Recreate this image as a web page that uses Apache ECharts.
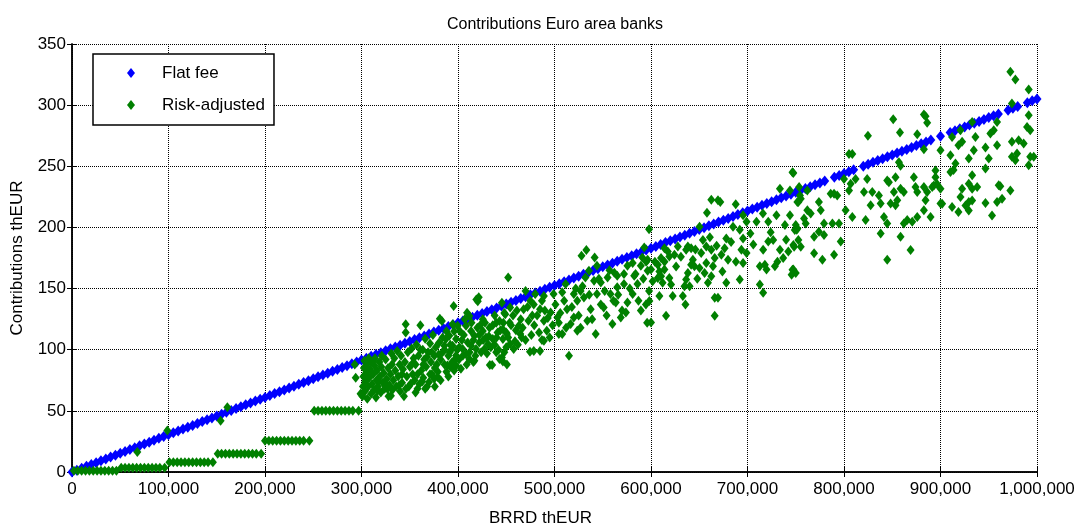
<!DOCTYPE html>
<html><head><meta charset="utf-8">
<script src="https://cdn.jsdelivr.net/npm/echarts@6/dist/echarts.min.js"></script>
<style>html,body{margin:0;padding:0;background:#fff}#c{width:1082px;height:532px}</style>
</head><body><div id="c"></div>
<script>
const titleText = 'Contributions Euro area banks';
const xName = 'BRRD thEUR';
const yName = 'Contributions thEUR';
const seriesNames = ['Flat fee', 'Risk-adjusted'];

// Flat fee: [BRRD thEUR, contribution thEUR]
const flatFee = [
[0,0],[5000,1.5],[10000,3.1],[15000,4.6],[20000,6.1],[25000,7.6],[30000,9.2],[35000,10.7],[40000,12.2],[45000,13.7],
[50000,15.3],[55000,16.8],[60000,18.3],[65000,19.8],[70000,21.4],[75000,22.9],[80000,24.4],[85000,25.9],[90000,27.5],[95000,29.0],
[100000,30.5],[105000,32.0],[110000,33.6],[115000,35.1],[120000,36.6],[125000,38.1],[130000,39.7],[135000,41.2],[140000,42.7],[145000,44.2],
[150000,45.8],[155000,47.3],[160000,48.8],[165000,50.3],[170000,51.9],[175000,53.4],[180000,54.9],[185000,56.4],[190000,58.0],[195000,59.5],
[200000,61.0],[205000,62.5],[210000,64.1],[215000,65.6],[220000,67.1],[225000,68.6],[230000,70.2],[235000,71.7],[240000,73.2],[245000,74.7],
[250000,76.3],[255000,77.8],[260000,79.3],[265000,80.8],[270000,82.4],[275000,83.9],[280000,85.4],[285000,86.9],[290000,88.5],[295000,90.0],
[300000,91.5],[305000,93.0],[310000,94.6],[315000,96.1],[320000,97.6],[325000,99.1],[330000,100.7],[335000,102.2],[340000,103.7],[345000,105.2],
[350000,106.8],[355000,108.3],[360000,109.8],[365000,111.3],[370000,112.9],[375000,114.4],[380000,115.9],[385000,117.4],[390000,119.0],[395000,120.5],
[400000,122.0],[405000,123.5],[410000,125.1],[415000,126.6],[420000,128.1],[425000,129.6],[430000,131.2],[435000,132.7],[440000,134.2],[445000,135.7],
[450000,137.3],[455000,138.8],[460000,140.3],[465000,141.8],[470000,143.4],[475000,144.9],[480000,146.4],[485000,147.9],[490000,149.5],[495000,151.0],
[500000,152.5],[505000,154.0],[510000,155.6],[515000,157.1],[520000,158.6],[525000,160.1],[530000,161.7],[535000,163.2],[540000,164.7],[545000,166.2],
[550000,167.8],[555000,169.3],[560000,170.8],[565000,172.3],[570000,173.9],[575000,175.4],[580000,176.9],[585000,178.4],[590000,180.0],[595000,181.5],
[600000,183.0],[605000,184.5],[610000,186.1],[615000,187.6],[620000,189.1],[625000,190.6],[630000,192.2],[635000,193.7],[640000,195.2],[645000,196.7],
[650000,198.3],[655000,199.8],[660000,201.3],[665000,202.8],[670000,204.4],[675000,205.9],[680000,207.4],[685000,208.9],[690000,210.5],[695000,212.0],
[700000,213.5],[705000,215.0],[710000,216.6],[715000,218.1],[720000,219.6],[725000,221.1],[730000,222.7],[735000,224.2],[740000,225.7],[745000,227.2],
[750000,228.8],[755000,230.3],[760000,231.8],[765000,233.3],[770000,234.9],[775000,236.4],[780000,237.9],[790000,241.0],[795000,242.5],
[800000,244.0],[805000,245.5],[810000,247.1],[820000,250.1],[825000,251.6],[830000,253.2],[835000,254.7],[840000,256.2],[845000,257.7],
[850000,259.3],[855000,260.8],[860000,262.3],[865000,263.8],[870000,265.4],[875000,266.9],[880000,268.4],[885000,269.9],[890000,271.5],
[900000,274.5],[910000,277.6],[915000,279.1],[920000,280.6],[925000,282.1],[930000,283.7],[935000,285.2],[940000,286.7],[945000,288.2],
[950000,289.8],[955000,291.3],[960000,292.8],[970000,295.9],[975000,297.4],[980000,298.9],[990000,302.0],[995000,303.5],[1000000,305.0]
];

// Risk-adjusted: lump-sum steps for small banks
const riskSteps = [
[2000,1],[6000,1],[10000,1],[14000,1],[18000,1],[22000,1],[26000,1],[30000,1],[34000,1],[38000,1],[42000,1],[46000,1],
[51000,3.5],[55000,3.5],[59000,3.5],[63000,3.5],[67000,3.5],[71000,3.5],[75000,3.5],[79000,3.5],[83000,3.5],[87000,3.5],[91000,3.5],[96000,3.5],
[101000,8],[105000,8],[109000,8],[113000,8],[117000,8],[121000,8],[125000,8],[129000,8],[133000,8],[137000,8],[141000,8],[146000,8],
[151000,15],[155000,15],[159000,15],[163000,15],[167000,15],[171000,15],[175000,15],[179000,15],[183000,15],[187000,15],[191000,15],[196000,15],
[200000,25.5],[204000,25.5],[208000,25.5],[212000,25.5],[216000,25.5],[220000,25.5],[224000,25.5],[228000,25.5],[232000,25.5],[236000,25.5],[240000,25.5],[246000,25.5],
[251000,50],[255000,50],[259000,50],[263000,50],[267000,50],[271000,50],[275000,50],[279000,50],[283000,50],[287000,50],[291000,50],[297000,50]
];
const riskLowOutliers = [[67700,16.4],[98800,34],[154000,42],[161000,53]];

// Risk-adjusted: scattered contributions of larger banks
const risk300to400 = [
[293000,88],[294000,77],[299000,64],
[301000,62],[301500,70],[302000,78],[302500,85],[303000,91],[303500,66],[304000,74],[305000,81],[305500,88],[306000,60],[307000,70],[307500,93],[308000,77],[309000,84],[310000,64],[310500,90],[311000,72],[312000,80],[313000,67],[313500,87],[314000,93],[315000,61],[315500,75],[316000,83],[316700,66.5],[317000,70],[318000,74.7],[318500,90],[319000,78],[320000,65],[320500,86],[321000,95],[322000,73],[323000,81],[324000,68],[325000,92],[326000,76],[326700,70.9],[327000,67.9],[327500,85],[328000,62],[329000,71],[330000,80],[330500,62.4],[331000,97],[331500,88],[332000,67],[333000,75],[334000,93],[335000,83],[336000,70],[337000,99],[338000,78],[339000,70.9],[339500,88],[340000,66],[341000,95],[342000,73],[343000,84],[344000,62],[345000,90],[345800,120.8],[345800,114.1],[347000,78],[348000,98],[349000,70],[350000,86],[351000,72.2],[352000,101],[353000,80],[354000,93],[355000,75],
[356000,88],[357000,104],[358000,68],[359000,95],[360000,72],[361000,120],[362000,83],[363000,74],[363500,100],[364000,77],[365000,92],[366000,109],[367000,86],[368000,70],[369000,98],[370000,73.6],[371000,105],[372000,90],[373000,80],[374000,112],[375300,76.2],[375500,95],[376000,85],[377000,102],[378800,77.6],[379000,82],[380500,106],[381200,125.4],[382000,92],[383300,123.5],[384000,97.9],[385800,103.3],[386000,88],[387500,108.7],[388000,82],[389000,87],[390000,95],[391000,111.4],[391500,97.9],[392000,86],[393000,100],[394400,120.8],[394400,103.3],[395500,135.7],[396000,115],[397000,92],[398000,87],[398000,95.2],[398000,108.7],[399600,119.5],
[342000,80],[346000,68],[352000,88],[356000,65],[358000,80],[361000,100],[364000,88],[366000,68],[368000,94],[371000,80],[373000,98],[376000,70],[378000,88],[380000,96],[382000,75],[384000,110],[386000,100],[388000,115],[390000,78],[392000,104],[394000,90],[396000,83],[399000,100]
];
const risk400to500 = [
[401400,102],[403000,84.4],[404900,100.6],[406000,112],[408300,119.5],[408300,96.5],[409400,130.3],[410000,106],[411800,127.6],[411800,92.5],[413500,115.4],[413500,103.3],[415900,90],[417000,111.4],[417000,91],[418700,100.6],[419000,141],[420500,139.7],[421500,143],[422000,106],[423000,120],[425700,125],[425700,115.4],[427400,100.6],[429000,110],[431000,104.6],[432600,118],[433000,87.5],[435400,87.6],[436000,108.7],[438000,128],[439600,122],[439600,97.9],[441000,114],[443000,123.5],[443000,92.5],[445500,138.4],[446500,116.8],[446500,108.7],[446500,90.3],[448000,130],
[445500,93.7],[447000,122],[449000,129],[450000,114],[450000,102],[450700,112.8],[450700,88],[452000,159],[453500,122],[454000,104.6],[454000,134.6],[457700,100.5],[459000,107],[461000,132],[463000,119.6],[464600,112.8],[466000,110],[468000,133],[470000,148],[473000,123.7],[474600,98.3],[475000,140],[477000,128],[478500,137],[478500,99],[480000,145.5],[485000,133],[485000,99],[487000,140],[489000,123.7],[489000,107.4],[489000,144],[492000,115.5],[496000,130.5],[499000,145.5],
[401000,92],[402000,115],[404000,108],[405000,95],[407000,125],[409000,88],[412000,98],[414000,122],[416000,108],[418000,95],[420000,118],[422000,112],[424000,98],[426000,108],[428000,122],[430000,97],[432000,111],[434000,102],[436000,120],[438000,104],[440000,110],[442000,100],[444000,116],[448000,98],[452000,110],[455000,120],[457000,128],[460000,116],[462000,104],[465000,125],[467000,118],[470000,108],[472000,135],[476000,112],[479000,120],[482000,128],[484000,114],[487000,108],[490000,132],[493000,126],[495000,110],[498000,120]
];
const risk500to600 = [
[501000,137],[503000,126.4],[504500,122],[504500,112.8],[508000,112.8],[508000,147],[511500,153.7],[513000,133],[515000,95],[516700,121],[520000,145.5],[520000,126.4],[523600,140],[523600,115.5],[527000,148],[527000,118],[528000,176.8],[530500,142.8],[532000,159],[533000,181.5],[534000,123.7],[535700,164.6],[537500,133],[541000,156.4],[541600,175.5],[542700,112.8],[544000,145.5],[544000,168.7],[548000,155],[548000,137],[551000,134.6],[555000,159],[558000,145.5],[560000,121],[562000,163],[563500,138.7],[565000,151],[565000,160.5],[568700,126.4],[572000,162],[572000,153.7],[574000,130.5],[575600,138.7],[575600,168.7],[581000,171],[581000,145.5],[582600,160.5],[586000,153.7],[589500,168.7],[589500,132],[591000,175.5],[593000,183.6],[594700,137],[596000,122],[596500,164.6],[598000,198.6],[598000,148],
[506000,130],[510000,140],[512000,118],[518000,135],[522000,150],[525000,128],[529000,152],[536000,145],[539000,125],[546000,158],[552000,148],[554000,128],[557000,165],[561000,140],[566000,145],[570000,132],[578000,150],[584000,162],[587000,140],[592000,158],[595000,172]
];
const risk600to750 = [
[596500,173.6],[598300,139.8],[600000,165.5],[600000,122.3],[601700,156],[607000,169.5],[607000,158.7],[608700,164],[608700,144],[610400,175],[610400,160],[612000,154.7],[613900,183],[613900,165.5],[615600,127.7],[617400,180.3],[619000,176.3],[619000,158.7],[620800,153.3],[622500,143.9],[624300,177.6],[627800,184.4],[633000,143.9],[634700,152],[635700,137],[636400,157.4],[636400,181.7],[638200,162.8],[638200,184.4],[640000,152],[641600,169.5],[641600,183],[643400,173.6],[645000,168.2],[650300,200.6],[650300,166.8],[652000,179],[653800,189.8],[655500,162.8],[657300,184.4],[657300,171],[658000,212],[659000,154.7],[662500,222.7],[662500,181.7],[662500,160],[664200,168.2],[666000,175],[666000,142.5],[666000,127.7],[669400,222.2],[669400,142.5],[671800,220.8],[672900,177.6],[676300,183],[678000,191],[678000,154.7],[679800,173.6],[685000,200.6],[687800,219],[692000,198],[692000,157.4],[693700,181.7],[695400,210],[695400,191],[695400,171],[699000,204.6],[699000,179],[709300,204.6],[712800,168.2],[712800,153.3],[716000,211.4],[716200,181.7],[716200,146.6],[718000,169.5],[719700,165.5],[721500,204.6],[721500,188.4],[726600,189.8],[728400,168.2],[730000,210],[733600,231.6],[733600,181.7],[737000,175],[738800,202],[742300,180.3],[744000,230.3],[745700,161.4],[747500,244.6],[747500,185.7],[747500,165.5],[749000,197.9],
[604000,172],[614000,172],[626000,168],[631000,176],[646000,182],[648000,158],[661000,192],[668000,185],[674000,164],[683000,188],[688000,172],[703000,195],[706000,186],[724000,196],[731000,172],[740000,190],[744000,210]
];
const risk750to900 = [
[751000,198],[752700,220.8],[752700,189.8],[754400,226.2],
[746600,245.1],[746600,165.4],[748300,184.3],[750000,201.9],[750000,162.7],[751700,220.8],[751700,199.2],[753500,233],[755200,223.5],[755200,184.3],[758600,207.3],[760300,203.2],[762000,230.3],[762000,214],[765500,211.3],[769000,192.4],[769000,178.9],[774000,220.8],[774000,196.5],[775900,214],[777600,173.5],[779300,193.8],[779300,203.2],[786200,227.6],[788000,203.2],[789700,227.6],[789700,177.6],[793000,226.2],[794800,203.2],[796600,188.4],[800000,239.7],[801700,214],[805200,230.3],[805200,260],[806900,235.7],[808600,208.6],[808600,260],[812000,239.7],[820700,228.9],[822400,206],[824000,239.7],[824800,274.9],[827600,218.1],[829300,228.9],[836200,226.2],[838000,219.5],[838000,195.1],[841400,208.6],[844800,238.4],[844800,203.2],[844800,173.5],[846500,237],[848300,219.5],[851000,288.4],[851700,228.9],[853400,241.1],[853400,218.1],[855200,222.2],[856900,253.2],[858000,277.6],[858600,250.5],[858600,231.6],[858600,192.4],[862000,228.9],[862000,203.2],[865500,206],[869000,181.6],[870700,204.6],[872400,241.1],[874100,233],[875900,276.2],[875900,228.9],[875900,208.6],[882800,292.4],[882800,264],[882800,233],[882800,214],[884500,291],[884500,222.2],[886200,285.7],[886200,228.9],[889700,208.6],[891400,233],[893100,234.3],[894800,246.5],[894800,241],[896600,235.3]
];
const risk900to1000 = [
[900000,219.5],[900000,231.6],[900000,263.1],[901700,219.4],[910300,259],[910300,245.4],[912000,274],[912000,216.7],[913500,247],[915500,252.2],[918600,267.2],[918600,212.6],[920700,279.5],[920700,224.9],[922400,270],[922400,231.7],[925900,218],[929300,256.3],[929300,235.8],[929300,220.8],[929300,213.9],[932800,286.3],[932800,242.6],[932800,231.7],[932800,222.1],[934500,263.1],[936200,274],[938000,233],[946600,265.3],[946600,248.1],[946600,220],[950000,256.3],[951700,276.8],[953400,209.8],[955200,279.5],[958600,286.3],[958600,267.2],[958600,220.8],[960300,234.4],[962000,233.6],[963800,223.5],[972400,327.3],[972400,230.3],[974000,301.4],[974000,270],[974000,257.7],[977600,321],[977600,255],[979300,260.4],[981000,271.3],[986200,268.6],[989700,282.2],[991400,312.8],[991400,291.8],[991400,250.8],[993000,279.5],[993000,257.7],[996600,257.7]
];

const riskAdjusted = [].concat(riskSteps, riskLowOutliers, risk300to400, risk400to500, risk500to600, risk600to750, risk750to900, risk900to1000);

const FONT = 'Liberation Sans, Arial, sans-serif';
const chart = echarts.init(document.getElementById('c'), null, {renderer: 'canvas'});
const axisBlack = {color: '#000', width: 1.5};
chart.setOption({
  animation: false,
  backgroundColor: '#fff',
  title: {
    text: titleText, left: 550, top: 12, textAlign: 'center',
    textStyle: {fontFamily: FONT, fontSize: 16, fontWeight: 'normal', color: '#000'}
  },
  legend: {
    data: seriesNames, orient: 'vertical', left: 93, top: 54,
    padding: [9, 9, 10, 34], itemGap: 12, itemWidth: 8, itemHeight: 10,
    borderColor: '#000', borderWidth: 1.5, backgroundColor: '#fff',
    textStyle: {fontFamily: FONT, fontSize: 17, color: '#000', lineHeight: 20, padding: [0, 0, 0, 22]},
    z: 10
  },
  grid: {left: 72, right: 45, top: 44, bottom: 58, containLabel: false},
  xAxis: [{
    type: 'value', min: 0, max: 1000000, interval: 100000, position: 'bottom',
    name: xName, nameLocation: 'middle', nameGap: 38,
    nameTextStyle: {fontFamily: FONT, fontSize: 17, color: '#000', padding: [0, 28, 0, 0]},
    axisLine: {show: true, lineStyle: axisBlack},
    axisTick: {show: true, inside: true, length: 5, lineStyle: {color: '#000', width: 1}},
    axisLabel: {fontFamily: FONT, fontSize: 17, color: '#000', margin: 9,
      formatter: v => v.toLocaleString('en-US'), showMaxLabel: true, showMinLabel: true},
    splitLine: {show: true, lineStyle: {color: '#000', width: 1, type: [1, 1]}}
  }, {
    type: 'value', min: 0, max: 1000000, interval: 100000, position: 'top',
    axisLine: {show: true, lineStyle: axisBlack},
    axisTick: {show: true, inside: true, length: 5, lineStyle: {color: '#000', width: 1}},
    axisLabel: {show: false}, splitLine: {show: false}
  }],
  yAxis: [{
    type: 'value', min: 0, max: 350, interval: 50, position: 'left',
    name: yName, nameLocation: 'middle', nameGap: 46,
    nameTextStyle: {fontFamily: FONT, fontSize: 17, color: '#000'},
    axisLine: {show: true, lineStyle: axisBlack},
    axisTick: {show: true, inside: true, length: 5, lineStyle: {color: '#000', width: 1}},
    axisLabel: {fontFamily: FONT, fontSize: 17, color: '#000', margin: 6},
    splitLine: {show: true, lineStyle: {color: '#000', width: 1, type: [1, 1]}}
  }, {
    type: 'value', min: 0, max: 350, interval: 50, position: 'right',
    axisLine: {show: true, lineStyle: axisBlack},
    axisTick: {show: true, inside: true, length: 5, lineStyle: {color: '#000', width: 1}},
    axisLabel: {show: false}, splitLine: {show: false}
  }],
  series: [{
    name: seriesNames[0], type: 'scatter', data: flatFee,
    xAxisIndex: 0, yAxisIndex: 0,
    symbol: 'diamond', symbolSize: [9, 11],
    itemStyle: {color: '#0000ff', opacity: 1}, z: 2
  }, {
    name: seriesNames[1], type: 'scatter', data: riskAdjusted,
    xAxisIndex: 0, yAxisIndex: 0,
    symbol: 'diamond', symbolSize: [8, 10],
    itemStyle: {color: '#008000', opacity: 1}, z: 3
  }]
});
</script>
</body></html>
